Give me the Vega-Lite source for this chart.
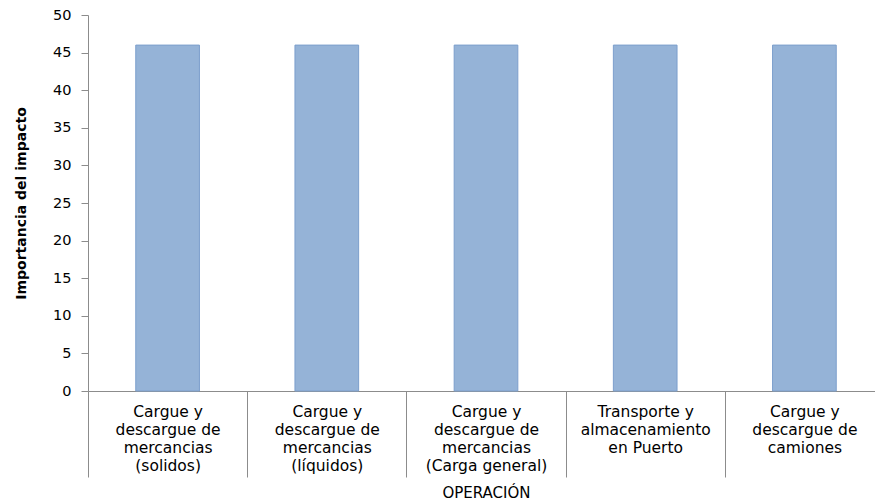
{
  "$schema": "https://vega.github.io/schema/vega-lite/v6.json",
  "autosize": {"type": "none"},
  "padding": {"left": 88, "top": 15, "right": 0, "bottom": 113},
  "width": 796,
  "height": 376,
  "background": "white",
  "config": {
    "view": {"stroke": null},
    "font": "DejaVu Sans"
  },
  "data": {
    "values": [
      {"operacion": "Cargue y|descargue de|mercancias|(solidos)", "importancia": 46},
      {"operacion": "Cargue y|descargue de|mercancias|(líquidos)", "importancia": 46},
      {"operacion": "Cargue y|descargue de|mercancias|(Carga general)", "importancia": 46},
      {"operacion": "Transporte  y|almacenamiento|en Puerto", "importancia": 46},
      {"operacion": "Cargue y|descargue de|camiones", "importancia": 46}
    ]
  },
  "mark": {
    "type": "bar",
    "width": {"band": 0.4},
    "fill": "#95B3D7",
    "stroke": "#7C9FCC",
    "strokeWidth": 1
  },
  "encoding": {
    "x": {
      "field": "operacion",
      "type": "nominal",
      "sort": null,
      "scale": {"paddingInner": 0, "paddingOuter": 0},
      "axis": {
        "title": "OPERACIÓN",
        "titleFont": "DejaVu Sans",
        "titleFontSize": 15,
        "titleFontWeight": "normal",
        "titleColor": "#000000",
        "titlePadding": 8,
        "labelExpr": "split(datum.label, '|')",
        "labelAngle": 0,
        "labelFont": "DejaVu Sans",
        "labelFontSize": 15.5,
        "labelLineHeight": 18,
        "labelColor": "#000000",
        "labelBaseline": "top",
        "labelPadding": -73,
        "labelLimit": 0,
        "tickBand": "extent",
        "tickSize": 86,
        "tickColor": "#8C8C8C",
        "domainColor": "#8C8C8C",
        "grid": false
      }
    },
    "y": {
      "field": "importancia",
      "type": "quantitative",
      "scale": {"domain": [0, 50], "nice": false},
      "axis": {
        "title": "Importancia del impacto",
        "titleFont": "DejaVu Sans",
        "titleFontSize": 14,
        "titleFontWeight": "bold",
        "titleColor": "#000000",
        "titlePadding": 24,
        "values": [0, 5, 10, 15, 20, 25, 30, 35, 40, 45, 50],
        "labelFont": "DejaVu Sans",
        "labelFontSize": 14.5,
        "labelColor": "#000000",
        "labelPadding": 10,
        "tickSize": 7,
        "tickColor": "#8C8C8C",
        "domainColor": "#8C8C8C",
        "grid": false
      }
    }
  }
}
